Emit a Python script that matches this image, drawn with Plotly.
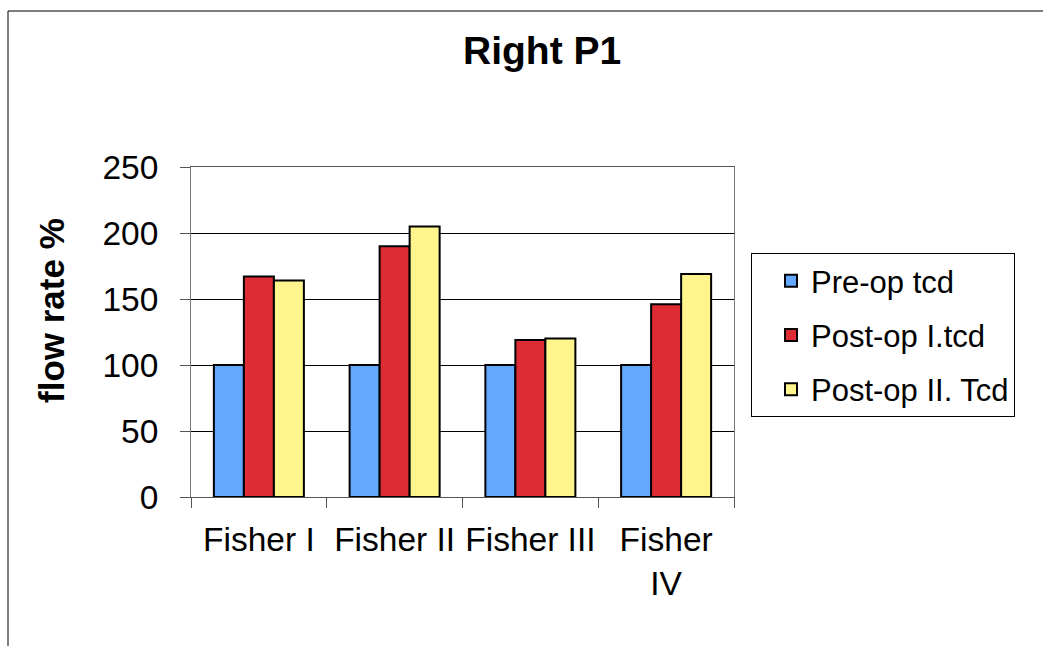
import plotly.graph_objects as go

categories = ["Fisher I", "Fisher II", "Fisher III", "Fisher<br>IV"]
series_names = ["Pre-op tcd", "Post-op I.tcd", "Post-op II. Tcd"]
pre_op = [100, 100, 100, 100]
post_op_1 = [167, 190, 119, 146]
post_op_2 = [164, 205, 120, 169]
colors = ["#63A9FF", "#DD2C34", "#FFF58C"]
y_ticks = [0, 50, 100, 150, 200, 250]

W, H = 1043, 646
L, R, T, B = 191, 1043 - 734, 167, 646 - 497
pw, ph = W - L - R, H - T - B

def px_x(p):
    return (p - L) / pw

def px_y(p):
    return (H - B - p) / ph

fig = go.Figure()
for i, (name, vals) in enumerate(zip(series_names, [pre_op, post_op_1, post_op_2])):
    fig.add_trace(go.Bar(
        x=categories, y=vals, name=name, legendgroup=name,
        marker=dict(color=colors[i], line=dict(color="black", width=2)),
    ))

font = "Arial, 'Liberation Sans', sans-serif"
fig.update_layout(
    width=W, height=H,
    margin=dict(l=L, r=R, t=T, b=B, pad=0, autoexpand=False),
    paper_bgcolor="white", plot_bgcolor="white",
    barmode="group", bargap=0.337, bargroupgap=0,
    font=dict(family=font, color="black", size=33),
    showlegend=True,
    legend=dict(
        x=px_x(751), y=px_y(253), xanchor="left", yanchor="top",
        font=dict(family=font, size=31, color="black"),
        bordercolor="black", borderwidth=1, bgcolor="white",
        tracegroupgap=11, indentation=19,
        entrywidth=300, entrywidthmode="pixels",
    ),
    xaxis=dict(
        type="category", tickson="boundaries", ticks="outside", ticklen=10,
        tickcolor="#555", showline=True, linecolor="#555", linewidth=1,
        mirror=True, showgrid=False, tickfont=dict(size=33.5),
        ticklabelstandoff=13, tickangle=0, automargin=False,
    ),
    yaxis=dict(
        range=[0, 250], tickvals=y_ticks, ticks="outside", ticklen=10,
        tickcolor="#555", showline=True, linecolor="#777", linewidth=1,
        mirror=True, showgrid=True, gridcolor="black", gridwidth=1,
        zeroline=False, tickfont=dict(size=33.5), ticklabelstandoff=15,
        automargin=False,
    ),
    shapes=[dict(
        type="rect", xref="paper", yref="paper",
        x0=px_x(8), x1=px_x(1100), y0=px_y(700), y1=px_y(11),
        line=dict(color="black", width=1), layer="below",
    )],
    annotations=[
        dict(text="<b>Right P1</b>", xref="paper", yref="paper",
             x=px_x(542), y=px_y(51), xanchor="center", yanchor="middle",
             showarrow=False, font=dict(size=39, family=font)),
        dict(text="<b>flow rate %</b>", xref="paper", yref="paper",
             x=px_x(51), y=px_y(311), xanchor="center", yanchor="middle",
             textangle=-90, showarrow=False, font=dict(size=35, family=font)),
    ],
)

fig.write_html("out.html")
